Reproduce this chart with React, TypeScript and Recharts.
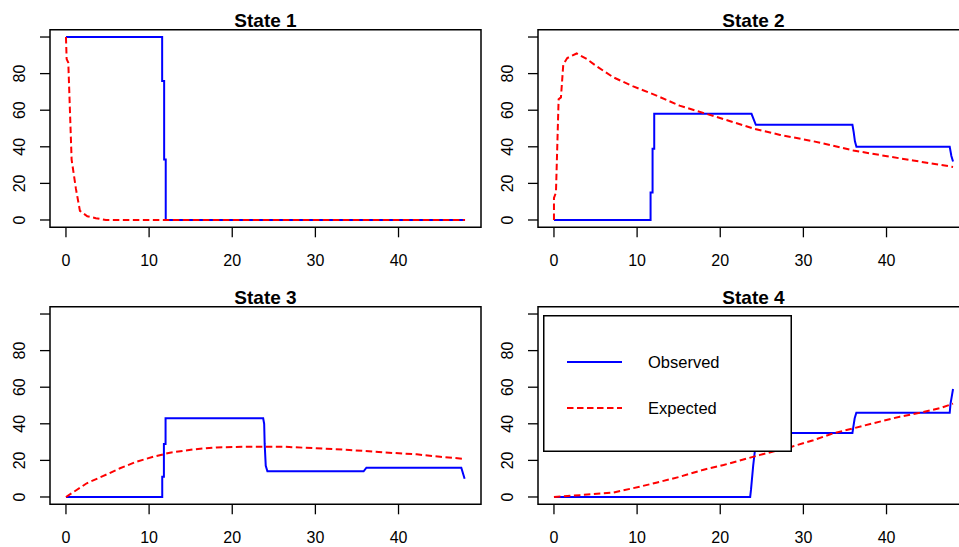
import React from 'react';
import { LineChart, Line, XAxis, YAxis, ReferenceArea, Legend } from 'recharts';

// ---- data (time in months, value in %) ----
const xTicks = [0, 10, 20, 30, 40];
const yTicks = [0, 20, 40, 60, 80, 100];
const stateTitles = ['State 1', 'State 2', 'State 3', 'State 4'];
const seriesNames = ['Observed', 'Expected'];

const state1Observed = [[0, 100], [11.57, 100], [11.57, 76], [11.81, 76], [11.81, 33], [12.0, 33], [12.0, 0], [48, 0]];
const state1Expected = [[0, 100], [0.08, 88], [0.28, 86], [0.68, 33], [1.2, 17], [1.68, 5], [2.57, 2], [3.6, 1], [4.8, 0], [48, 0]];

const state2Observed = [[0, 0], [11.62, 0], [11.62, 15], [11.86, 15], [11.86, 39], [12.06, 39], [12.06, 58], [23.76, 58], [24.28, 52], [35.9, 52], [36.05, 48], [36.2, 43], [36.38, 40], [47.6, 40], [47.8, 35], [48, 32]];
const state2Expected = [[0, 0], [0, 12], [0.24, 15], [0.56, 66], [0.84, 67], [1.12, 85], [1.6, 88.5], [2.73, 91], [3.93, 88], [5.13, 84], [7.13, 78], [9.54, 73], [12.34, 68], [15.1, 62.5], [18.35, 58], [21.2, 54], [23.96, 50], [27.2, 46.5], [31.2, 43], [33.2, 41], [36.0, 38], [39.2, 35.5], [43.2, 32.5], [48, 29]];

const state3Observed = [[0, 0], [11.58, 0], [11.58, 11], [11.78, 11], [11.78, 29], [11.98, 29], [11.98, 43], [23.72, 43], [23.84, 40], [23.9, 29], [24.03, 17], [24.23, 14], [35.8, 14], [36.14, 16], [47.55, 16], [47.95, 10]];
const state3Expected = [[0, 0], [1.28, 3.8], [2.5, 7.5], [4.5, 11.5], [6.5, 15.7], [8.5, 19.3], [10.5, 22], [12.5, 24.2], [15.3, 26], [18.1, 27.1], [22.1, 27.5], [26.1, 27.5], [30.1, 26.6], [34.1, 25.7], [38.1, 24.4], [42.2, 23.3], [45, 22], [48, 20.8]];

const state4Observed = [[0, 0], [23.6, 0], [23.7, 4], [23.96, 17], [24.16, 25], [24.4, 35], [35.9, 35], [36.0, 38], [36.17, 43], [36.37, 46], [47.6, 46], [47.7, 51], [47.85, 55], [48, 59]];
const state4Expected = [[0, 0], [3.1, 1], [7.1, 2.4], [10.3, 5.6], [12.3, 7.8], [15.1, 11], [17.9, 14.8], [20.4, 17.5], [23.2, 21], [24.8, 23], [28.6, 27.5], [31.2, 31], [33.6, 34.8], [36, 37.5], [38.4, 40.3], [41.6, 43.9], [44, 46], [46.4, 48.5], [48, 51]];

// ---- styling ----
const FONT = '"Liberation Sans", Arial, Helvetica, sans-serif';
const X_DOMAIN: [number, number] = [-1.92, 49.92];
const Y_DOMAIN: [number, number] = [-4, 104];
const BLUE = '#0000ff';
const RED = '#ff0000';
const DASH = '6.5 3.5';

const toRows = (pairs: number[][]) => pairs.map(([t, v]) => ({ t, v }));

const XTick = (props: any) => {
  const { x, y, payload } = props;
  return (
    <text x={x} y={y + 29} textAnchor="middle" fontFamily={FONT} fontSize={16} fill="#000">
      {payload.value}
    </text>
  );
};

const YTick = (props: any) => {
  const { x, y, payload } = props;
  if (payload.value === 100) return <g />;
  const cx = x - 20;
  return (
    <text
      x={cx}
      y={y}
      transform={`rotate(-90 ${cx} ${y})`}
      textAnchor="middle"
      dominantBaseline="central"
      fontFamily={FONT}
      fontSize={16}
      fill="#000"
    >
      {payload.value}
    </text>
  );
};

const LegendBox = () => (
  <svg width={249} height={137} style={{ display: 'block' }}>
    <rect x={0.75} y={0.75} width={247.5} height={135.5} fill="#fff" stroke="#000" strokeWidth={1.5} />
    <line x1={24} x2={79} y1={47} y2={47} stroke={BLUE} strokeWidth={2} />
    <text x={105} y={47} dominantBaseline="central" fontFamily={FONT} fontSize={16.5} fill="#000">
      {seriesNames[0]}
    </text>
    <line x1={24} x2={79} y1={93} y2={93} stroke={RED} strokeWidth={2} strokeDasharray={DASH} />
    <text x={105} y={93} dominantBaseline="central" fontFamily={FONT} fontSize={16.5} fill="#000">
      {seriesNames[1]}
    </text>
  </svg>
);

type PanelProps = {
  left: number;
  top: number;
  title: string;
  observed: number[][];
  expected: number[][];
  showLegend?: boolean;
};

const Panel = ({ left, top, title, observed, expected, showLegend }: PanelProps) => (
  <div style={{ position: 'absolute', left, top }}>
    <LineChart width={490} height={277} margin={{ top: 29.7, right: 9, bottom: 9.7, left: 0 }}>
      <XAxis
        dataKey="t"
        type="number"
        domain={X_DOMAIN}
        ticks={xTicks}
        allowDataOverflow
        axisLine={false}
        tickSize={10}
        tickMargin={0}
        height={40}
        interval={0}
        stroke="#000"
        tickLine={{ stroke: '#000', strokeWidth: 1.3 }}
        tick={XTick}
      />
      <YAxis
        type="number"
        domain={Y_DOMAIN}
        ticks={yTicks}
        allowDataOverflow
        axisLine={false}
        tickSize={10}
        tickMargin={0}
        width={50}
        interval={0}
        stroke="#000"
        tickLine={{ stroke: '#000', strokeWidth: 1.3 }}
        tick={YTick}
      />
      <ReferenceArea
        x1={X_DOMAIN[0]}
        x2={X_DOMAIN[1]}
        y1={Y_DOMAIN[0]}
        y2={Y_DOMAIN[1]}
        fill="none"
        fillOpacity={0}
        stroke="#000"
        strokeWidth={1.5}
        ifOverflow="visible"
        label={{
          value: title,
          position: 'top',
          offset: 3,
          fontSize: 19,
          fontWeight: 'bold',
          fontFamily: FONT,
          fill: '#000',
        }}
      />
      <Line
        data={toRows(observed)}
        dataKey="v"
        type="linear"
        stroke={BLUE}
        strokeWidth={2}
        dot={false}
        activeDot={false}
        isAnimationActive={false}
        name={seriesNames[0]}
      />
      <Line
        data={toRows(expected)}
        dataKey="v"
        type="linear"
        stroke={RED}
        strokeWidth={2}
        strokeDasharray={DASH}
        dot={false}
        activeDot={false}
        isAnimationActive={false}
        name={seriesNames[1]}
      />
      {showLegend && (
        <Legend
          layout="horizontal"
          verticalAlign="middle"
          align="center"
          wrapperStyle={{ left: 55, top: 38, right: 'auto', bottom: 'auto', width: 249, height: 137 }}
          content={() => <LegendBox />}
        />
      )}
    </LineChart>
  </div>
);

export default function App() {
  return (
    <div
      style={{
        position: 'absolute',
        left: 0,
        top: 0,
        width: 959,
        height: 547,
        overflow: 'hidden',
        background: '#fff',
      }}
    >
      <Panel left={0} top={0} title={stateTitles[0]} observed={state1Observed} expected={state1Expected} />
      <Panel left={488} top={0} title={stateTitles[1]} observed={state2Observed} expected={state2Expected} />
      <Panel left={0} top={277} title={stateTitles[2]} observed={state3Observed} expected={state3Expected} />
      <Panel left={488} top={277} title={stateTitles[3]} observed={state4Observed} expected={state4Expected} showLegend />
    </div>
  );
}
